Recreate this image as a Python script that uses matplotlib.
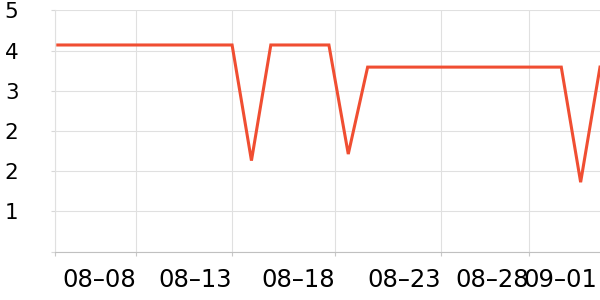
import matplotlib
matplotlib.use('Agg')
import matplotlib.pyplot as plt

# daily values, 08-04 .. 09-01
days = list(range(29))
values = [4.11]*10 + [1.81] + [4.11]*4 + [1.94] + [3.67]*11 + [1.38, 3.67]

date_labels = ['08–08', '08–13', '08–18', '08–23', '08–28', '09–01']
tick_pos = [-0.13, 4.03, 9.02, 14.29, 19.77, 24.31, 27.86]
y_ticks = [0.8, 1.6, 2.4, 3.2, 4.0, 4.8]

fig = plt.figure(figsize=(6, 3), dpi=100)
ax = fig.add_axes([55.3/600, 1-251.6/300, 1-55.3/600, (251.6-10.3)/300])

ax.plot(days, values, color='#f04e32', lw=2.2, solid_joinstyle='miter', zorder=3)

ax.set_xlim(-0.13, 28.0)
ax.set_ylim(0, 4.8)

ax.set_xticks(tick_pos)
ax.set_xticklabels([''] + date_labels, ha='right')
ax.tick_params(axis='x', length=3, color='#c8c8c8', width=0.8, pad=8.5, labelsize=17.5)

ax.set_yticks([0] + y_ticks)
ax.set_yticklabels([''] + ['%d' % round(v) for v in y_ticks])
ax.tick_params(axis='y', length=3, color='#d8d8d8', width=0.8, pad=23.5, labelsize=15.5)

ax.grid(True, color='#e0e0e0', lw=0.8)
ax.get_xgridlines()[-1].set_visible(False)
ax.get_xticklines()[-2].set_visible(False)
for s in ['top', 'right']:
    ax.spines[s].set_visible(False)
ax.spines['left'].set_color('#e0e0e0')
ax.spines['bottom'].set_color('#c0c0c0')
ax.spines['left'].set_linewidth(0.8)
ax.spines['bottom'].set_linewidth(0.8)

plt.savefig('out.png', dpi=100)
